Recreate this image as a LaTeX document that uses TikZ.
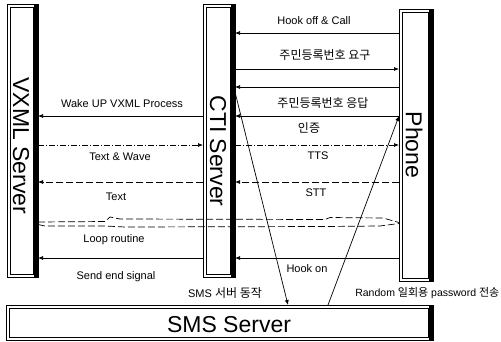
\documentclass[tikz,border=0pt]{standalone}
\usepackage{fontspec}
\setmainfont{Liberation Sans}
\newfontfamily\cjk{Noto Sans CJK KR}
\usetikzlibrary{arrows.meta}
\newcommand\srvdeco[1]{%
  \draw[line width=0.5pt] ([shift={(3.5,3.5)}]#1.north west) rectangle ([shift={(-5,-3)}]#1.south east);
  \fill ([xshift=-4.5]#1.north east) rectangle (#1.south east);
  \fill ([yshift=-1.2]#1.south west) rectangle (#1.south east);
}
\newcommand\kr[1]{{\cjk\fontsize{12}{13}\selectfont #1}}
\newcommand\krs[1]{{\cjk\fontsize{11}{13}\selectfont #1}}
\begin{document}
\begin{tikzpicture}[x=1pt,y=-1pt,
  srv/.style={draw, line width=0.6pt, inner sep=0pt, outer sep=0pt},
  srvname/.style={font=\fontsize{23}{26}\selectfont, inner sep=0pt},
  lbl/.style={font=\fontsize{11}{13}\selectfont, inner sep=0pt},
  msg/.style={line width=0.7pt, -{Latex[length=5pt,width=4pt]}},
  dmsg/.style={msg, dash pattern=on 7pt off 3pt},
  ddmsg/.style={msg, dash pattern=on 6pt off 2pt on 1pt off 2pt},
  loopline/.style={line width=0.7pt, dash pattern=on 7pt off 3pt}]
\useasboundingbox (0,0) rectangle (501,341);

% servers
\node[srv, minimum width=31, minimum height=273] (vx) at (22.5,140.5) {};
\node[srv, minimum width=32, minimum height=273] (cti) at (219,140.5) {};
\node[srv, minimum width=34, minimum height=272] (ph) at (416,145) {};
\node[srv, minimum width=427, minimum height=35] (sms) at (219.5,322.5) {};
\srvdeco{vx}
\srvdeco{cti}
\srvdeco{ph}
\srvdeco{sms}

\node[srvname, rotate=-90] (vxl) at (21,146) {VXML Server};
\node[srvname, rotate=-90] (ctil) at (218,151) {CTI Server};
\node[srvname, rotate=-90] (phl) at (414,145) {Phone};
\node[srvname] (smsl) at (229,325) {SMS Server};

% messages CTI <-> Phone
\draw[msg] (ph.west |- 0,33) -- (cti.east |- 0,33);
\draw[msg] (cti.east |- 0,69) -- (ph.west |- 0,69);
\draw[msg] (ph.west |- 0,87) -- (cti.east |- 0,87);
\draw[msg] (ph.west |- 0,116) -- (cti.east |- 0,116);
\draw[ddmsg] (cti.east |- 0,145) -- (ph.west |- 0,145);
\draw[dmsg] (ph.west |- 0,182) -- (cti.east |- 0,182);
\draw[msg] (ph.west |- 0,258) -- (cti.east |- 0,258);

% messages VXML <-> CTI
\draw[msg] (cti.west |- 0,116) -- (vx.east |- 0,116);
\draw[ddmsg] (vx.east |- 0,145) -- (cti.west |- 0,145);
\draw[dmsg] (cti.west |- 0,182) -- (vx.east |- 0,182);
\draw[msg] (cti.west |- 0,258) -- (vx.east |- 0,258);

% SMS
\draw[msg] (cti.east |- 0,92) -- (sms.north -| 288,0);
\draw[msg] (sms.north -| 328,0) -- (ph.west |- 0,116);

% loop routine
\draw[loopline] (vx.east |- 0,222) -- (105,221.5) -- (110,217) -- (120,219) -- (325,219.5) -- (330,217.5) -- (383,218) -- (ph.west |- 0,222.5);
\draw[loopline] (vx.east |- 0,224.5) -- (45,226) -- (105,226) -- (125,227) -- (325,226.5) -- (380,226) -- (ph.west |- 0,223.5);

% labels
\node[lbl] (l1) at (314,21) {Hook off \& Call};
\node[lbl] (l2) at (325,55) {\kr{주민등록번호 요구}};
\node[lbl] (l3) at (323,103) {\kr{주민등록번호 응답}};
\node[lbl] (l4) at (309,128) {\kr{인증}};
\node[lbl] (l5) at (318,156) {TTS};
\node[lbl] (l6) at (316,193) {STT};
\node[lbl] (l7) at (307,269) {Hook on};
\node[lbl] (l8) at (225,293) {SMS \kr{서버 동작}};
\node[lbl, font=\fontsize{10.5}{13}\selectfont, anchor=east] (l9) at (499.5,293) {Random \krs{일회용} password \krs{전송}};
\node[lbl] (l10) at (122,104) {Wake UP VXML Process};
\node[lbl] (l11) at (120,157) {Text \& Wave};
\node[lbl] (l12) at (116,197) {Text};
\node[lbl] (l13) at (114,240) {Loop routine};
\node[lbl] (l14) at (116,277) {Send end signal};
\end{tikzpicture}
\end{document}
